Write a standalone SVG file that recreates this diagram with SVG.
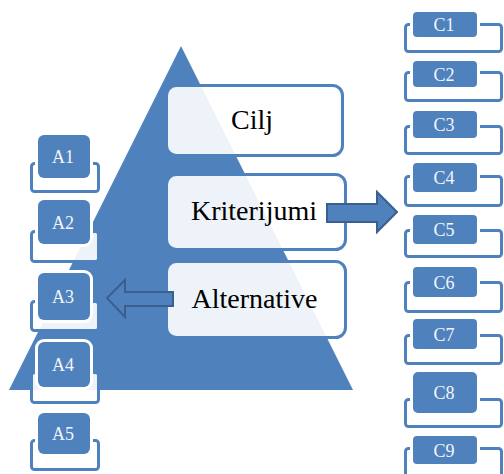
<svg xmlns="http://www.w3.org/2000/svg" width="504" height="474" viewBox="0 0 504 474">
<style>
.tri{fill:#4F81BD}
.box{fill:#fff;fill-opacity:0.9;stroke:#4F81BD;stroke-width:3}
.lbl{font-family:"Liberation Serif",serif;font-size:28px;fill:#000;text-anchor:middle}
.arr{fill:#4F81BD;stroke:#3A5F8F;stroke-width:2;stroke-linejoin:miter}
.frm{fill:#fff;fill-opacity:0.9;stroke:#4F81BD;stroke-width:3}
.itm{fill:#4F81BD;stroke:#fff;stroke-width:6;paint-order:stroke}
.itx{font-family:"Liberation Serif",serif;font-size:18px;fill:#F2F5FA;text-anchor:middle}
</style>
<rect width="504" height="474" fill="#fff"/>
<polygon id="pyramid" class="tri" points="181,46 353,390 9,390"/>
<g id="cilj"><rect class="box" x="166.5" y="85.5" width="176" height="70" rx="10"/><text class="lbl" x="252" y="129">Cilj</text></g>
<g id="kriterijumi"><rect class="box" x="166.5" y="174.5" width="179" height="75" rx="10"/><text class="lbl" x="254" y="220">Kriterijumi</text></g>
<g id="alternative"><rect class="box" x="166.5" y="261.5" width="179" height="76" rx="10"/><text class="lbl" x="254.5" y="308">Alternative</text></g>
<g id="connectors">
<polygon class="arr" points="327,204 377,204 377,192 397,212 377,232 377,222 327,222"/>
<polygon class="arr" points="173,292 125,292 125,280 107,298 125,317 125,306 173,306"/>
</g>
<g id="A1"><rect class="frm" x="31.5" y="163.5" width="67" height="28" rx="3"/><rect class="itm" x="38" y="135" width="52" height="43" rx="6"/><text class="itx" x="63" y="163">A1</text></g>
<g id="A2"><rect class="frm" x="31.5" y="231.5" width="67" height="30" rx="3"/><rect class="itm" x="38" y="200" width="52" height="44" rx="6"/><text class="itx" x="63" y="228.5">A2</text></g>
<g id="A3"><rect class="frm" x="31.5" y="301.5" width="67" height="29" rx="3"/><rect class="itm" x="38" y="273" width="52" height="47" rx="6"/><text class="itx" x="63" y="303">A3</text></g>
<g id="A4"><rect class="frm" x="31.5" y="372.5" width="67" height="30" rx="3"/><rect class="itm" x="38" y="342" width="52" height="45" rx="6"/><text class="itx" x="63" y="371">A4</text></g>
<g id="A5"><rect class="frm" x="31.5" y="440.5" width="67" height="29" rx="3"/><rect class="itm" x="38" y="413" width="52" height="41" rx="6"/><text class="itx" x="63" y="440">A5</text></g>
<g id="C1"><rect class="frm" x="405.5" y="24.5" width="96" height="27" rx="3"/><rect class="itm" x="413" y="12" width="64" height="25" rx="4"/><text class="itx" x="444" y="31">C1</text></g>
<g id="C2"><rect class="frm" x="405.5" y="72.5" width="96" height="28" rx="3"/><rect class="itm" x="413" y="61" width="64" height="26" rx="4"/><text class="itx" x="444" y="80.5">C2</text></g>
<g id="C3"><rect class="frm" x="405.5" y="126.5" width="96" height="27" rx="3"/><rect class="itm" x="413" y="111" width="64" height="27" rx="4"/><text class="itx" x="444" y="131">C3</text></g>
<g id="C4"><rect class="frm" x="405.5" y="176.5" width="96" height="29" rx="3"/><rect class="itm" x="413" y="163" width="64" height="29" rx="4"/><text class="itx" x="444" y="184">C4</text></g>
<g id="C5"><rect class="frm" x="405.5" y="230.5" width="96" height="26" rx="3"/><rect class="itm" x="413" y="215" width="64" height="29" rx="4"/><text class="itx" x="444" y="236">C5</text></g>
<g id="C6"><rect class="frm" x="405.5" y="282.5" width="96" height="29" rx="3"/><rect class="itm" x="413" y="267" width="64" height="30" rx="4"/><text class="itx" x="444" y="288.5">C6</text></g>
<g id="C7"><rect class="frm" x="405.5" y="335.5" width="96" height="28" rx="3"/><rect class="itm" x="413" y="319" width="64" height="30" rx="4"/><text class="itx" x="444" y="340.5">C7</text></g>
<g id="C8"><rect class="frm" x="405.5" y="399.5" width="96" height="27" rx="3"/><rect class="itm" x="413" y="372" width="64" height="41" rx="5"/><text class="itx" x="444" y="399">C8</text></g>
<g id="C9"><rect class="frm" x="405.5" y="448.5" width="96" height="30" rx="3"/><rect class="itm" x="413" y="436" width="64" height="28" rx="4"/><text class="itx" x="444" y="456.5">C9</text></g>
</svg>
